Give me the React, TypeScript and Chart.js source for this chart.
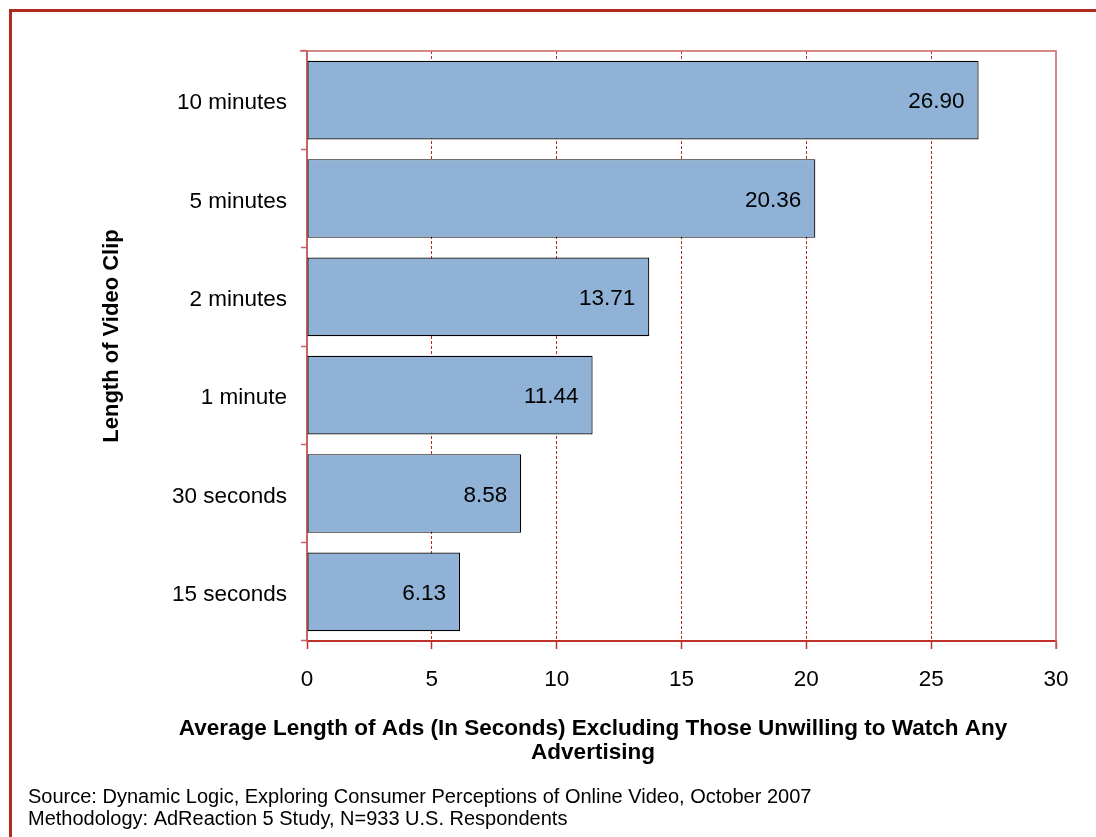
import React, { useEffect, useRef } from "react";
import { Chart, registerables } from "chart.js";

Chart.register(...registerables);

const categories = ["10 minutes", "5 minutes", "2 minutes", "1 minute", "30 seconds", "15 seconds"];
const values = [26.9, 20.36, 13.71, 11.44, 8.58, 6.13];
const xTicks = [0, 5, 10, 15, 20, 25, 30];
const yTitle = "Length of Video Clip";
const xTitleLines = [
  "Average Length of Ads (In Seconds) Excluding Those Unwilling to Watch Any",
  "Advertising",
];
const sourceLines = [
  "Source: Dynamic Logic, Exploring Consumer Perceptions of Online Video, October 2007",
  "Methodology: AdReaction 5 Study, N=933 U.S. Respondents",
];

const FONT = "'Liberation Sans', Arial, sans-serif";

export default function App() {
  const ref = useRef<HTMLCanvasElement | null>(null);

  useEffect(() => {
    if (!ref.current) return;

    const labelsPlugin = {
      id: "extras",
      afterDatasetsDraw(chart: any) {
        const ctx = chart.ctx;
        const meta = chart.getDatasetMeta(0);
        ctx.save();
        ctx.font = `22.5px ${FONT}`;
        ctx.fillStyle = "#000";
        ctx.textAlign = "right";
        ctx.textBaseline = "middle";
        meta.data.forEach((el: any, i: number) => {
          ctx.fillText(values[i].toFixed(2), el.x - 14, el.y + 2);
        });
        ctx.restore();
      },
      afterDraw(chart: any) {
        const ctx = chart.ctx;
        const a = chart.chartArea;
        ctx.save();
        // top & right plot border
        ctx.strokeStyle = "#c86464";
        ctx.lineWidth = 1.5;
        ctx.beginPath();
        ctx.moveTo(300, a.top);
        ctx.lineTo(a.right, a.top);
        ctx.lineTo(a.right, a.bottom + 8);
        ctx.stroke();

        ctx.fillStyle = "#000";
        // y title
        ctx.font = `bold 22px ${FONT}`;
        ctx.textAlign = "center";
        ctx.textBaseline = "middle";
        ctx.save();
        ctx.translate(112, 336);
        ctx.rotate(-Math.PI / 2);
        ctx.fillText(yTitle, 0, 0);
        ctx.restore();
        // x title
        ctx.font = `bold 22.5px ${FONT}`;
        ctx.fillText(xTitleLines[0], 593, 729);
        ctx.fillText(xTitleLines[1], 593, 753);
        // source
        ctx.font = `20px ${FONT}`;
        ctx.textAlign = "left";
        ctx.fillText(sourceLines[0], 28, 797);
        ctx.fillText(sourceLines[1], 28, 819);
        ctx.restore();
      },
    };

    const chart = new Chart(ref.current, {
      type: "bar",
      data: {
        labels: categories,
        datasets: [
          {
            data: values,
            backgroundColor: "#8fb2d6",
            borderColor: "#000000",
            borderWidth: 1.2,
            borderSkipped: false,
            barPercentage: 0.8,
            categoryPercentage: 1,
          },
        ],
      },
      options: {
        indexAxis: "y",
        responsive: false,
        animation: false,
        layout: { padding: { left: 0, top: 51, right: 40, bottom: 0 } },
        plugins: { legend: { display: false }, tooltip: { enabled: false } },
        scales: {
          x: {
            min: 0,
            max: 30,
            afterBuildTicks(scale: any) {
              scale.ticks = xTicks.map((v) => ({ value: v }));
            },
            afterFit(scale: any) {
              scale.height = 196;
            },
            grid: {
              color: (c: any) =>
                c.tick && (c.tick.value === 0 || c.tick.value === 30) ? "rgba(0,0,0,0)" : "#bb2a22",
              lineWidth: 1,
              tickColor: "#c0302a",
              tickLength: 8,
              tickWidth: 1.5,
            },
            border: { color: "#c0302a", width: 2, dash: [3, 2] },
            ticks: {
              color: "#000",
              font: { family: FONT, size: 22.5 },
              padding: 17,
            },
          },
          y: {
            afterFit(scale: any) {
              scale.width = 307;
            },
            grid: {
              drawOnChartArea: false,
              drawTicks: true,
              tickLength: 6,
              tickColor: "#c86464",
              tickWidth: 1.5,
              offset: true,
            },
            border: { color: "#c86464", width: 2 },
            ticks: {
              color: "#000",
              font: { family: FONT, size: 22.5 },
              padding: 14,
              labelOffset: 3,
            },
          },
        },
      },
      plugins: [labelsPlugin],
    } as any);

    return () => chart.destroy();
  }, []);

  return (
    <div style={{ position: "absolute", left: 0, top: 0, width: 1096, height: 837, background: "#fff", overflow: "hidden" }}>
      <div
        style={{
          position: "absolute",
          left: 9,
          top: 9,
          width: 1200,
          height: 1000,
          borderTop: "3px solid #b02a20",
          borderLeft: "3px solid #b02a20",
        }}
      />
      <canvas ref={ref} width={1096} height={837} style={{ position: "absolute", left: 0, top: 0 }} />
    </div>
  );
}
